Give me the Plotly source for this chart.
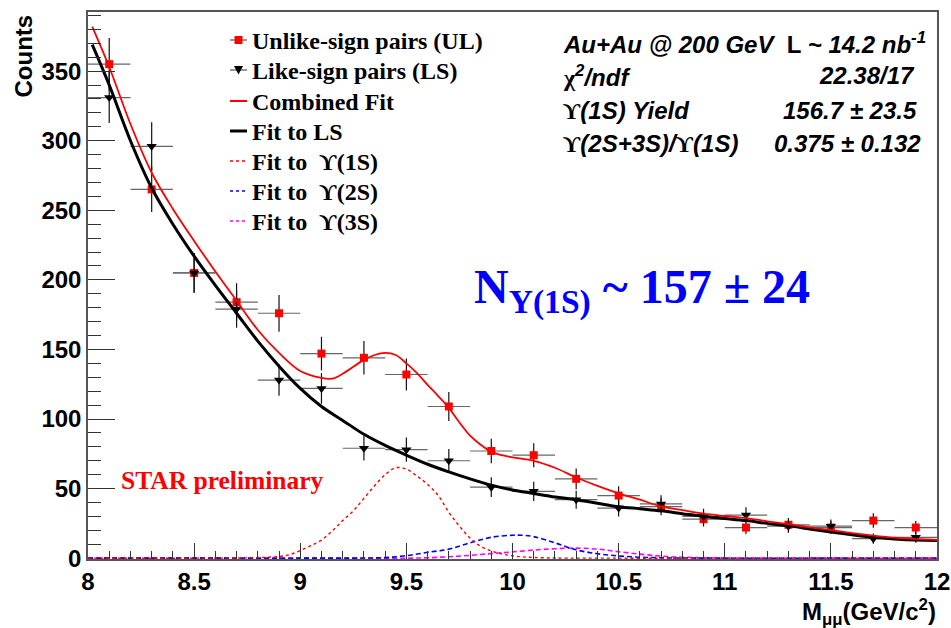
import plotly.graph_objects as go

# ---- measured dimuon invariant-mass spectrum (bin centres, GeV/c^2) ----
mass = [8.1, 8.3, 8.5, 8.7, 8.9, 9.1, 9.3, 9.5, 9.7, 9.9,
        10.1, 10.3, 10.5, 10.7, 10.9, 11.1, 11.3, 11.5, 11.7, 11.9]
bin_half_width = [0.1] * 20

ul_counts = [355, 265, 205, 184, 176, 147, 144, 132, 109, 77,
             74, 57, 45, 37, 28, 22, 24, 22, 27, 22]
ul_err = [18.8, 16.3, 14.3, 13.6, 13.2, 12.1, 12.0, 11.5, 10.4, 8.8,
          8.6, 7.5, 6.7, 6.1, 5.3, 4.7, 4.9, 4.7, 5.2, 4.7]

ls_counts = [331, 296, 205, 179, 128, 122, 79, 78, 70, 51,
             48, 42, 36, 39, 30, 31, 23, 23, 14, 15]
ls_err = [18.2, 17.2, 14.3, 13.4, 11.3, 11.0, 8.9, 8.8, 8.4, 7.1,
          6.9, 6.5, 6.0, 6.2, 5.5, 5.6, 4.8, 4.8, 3.7, 3.9]

# ---- fit curves, sampled along the mass axis ----
ls_fit_mass = [8.02, 8.1, 8.2, 8.3, 8.4, 8.5, 8.6, 8.7, 8.8, 8.9, 9.0, 9.1, 9.2,
               9.3, 9.4, 9.5, 9.6, 9.7, 9.8, 9.9, 10.0, 10.1, 10.2, 10.3, 10.4,
               10.5, 10.6, 10.7, 10.8, 10.9, 11.0, 11.1, 11.2, 11.3, 11.4, 11.5,
               11.6, 11.7, 11.8, 11.9, 12.0]
ls_fit = [369, 340, 300, 266, 240, 217, 196, 176, 156, 138, 122, 109, 99,
          89, 81, 74, 67.5, 62, 57, 52.5, 49, 46.5, 44, 42, 39.5,
          37, 35.5, 34, 32, 30, 28.5, 27, 25, 23.2, 21, 18.8,
          16.8, 15, 13.8, 13, 12.7]

comb_fit_mass = [8.02, 8.1, 8.2, 8.3, 8.4, 8.5, 8.6, 8.7, 8.8, 8.9, 9.0, 9.1,
                 9.15, 9.2, 9.3, 9.35, 9.4, 9.45, 9.5, 9.55, 9.6, 9.65, 9.7,
                 9.75, 9.8, 9.85, 9.9, 9.95, 10.0, 10.1, 10.2, 10.3, 10.4, 10.5,
                 10.6, 10.7, 10.8, 10.9, 11.0, 11.1, 11.2, 11.3, 11.4, 11.5,
                 11.6, 11.7, 11.8, 11.9, 12.0]
comb_fit = [382, 353, 312, 277, 251, 228, 206, 185, 164, 147.5, 134.5, 129.5,
            129, 132.5, 142.5, 146, 147.5, 146, 140, 133, 124.5, 116.5, 108,
            97.5, 88, 81.5, 76.5, 74, 72.5, 70, 65, 58, 52, 46.6,
            42, 37.2, 34.5, 32, 30.3, 28.8, 26.5, 24.4, 22.2, 20.1,
            18, 16.2, 14.7, 13.7, 13.2]

y1s_mass = [8.0, 8.5, 8.7, 8.8, 8.85, 8.9, 8.95, 9.0, 9.05, 9.1, 9.15, 9.2,
            9.25, 9.3, 9.35, 9.4, 9.45, 9.5, 9.55, 9.6, 9.65, 9.7, 9.75, 9.8,
            9.85, 9.9, 9.95, 10.0, 10.05, 10.1, 10.2, 10.5, 11.0, 11.5, 12.0]
y1s_fit = [0, 0, 0.1, 0.4, 0.7, 1.2, 2.5, 5.5, 9, 13, 19.5, 27,
           34, 43, 52, 60, 65, 64, 59, 53, 45, 33, 23, 14.5,
           8.5, 5.2, 3.0, 1.7, 0.9, 0.5, 0.1, 0, 0, 0, 0]

y2s_mass = [8.0, 8.5, 9.0, 9.3, 9.4, 9.5, 9.6, 9.7, 9.8, 9.9, 10.0, 10.05,
            10.1, 10.2, 10.3, 10.4, 10.5, 10.6, 10.7, 10.8, 11.0, 11.5, 12.0]
y2s_fit = [0, 0, 0, 0.1, 0.4, 1.8, 4.2, 6.5, 11, 15, 16.5, 16.4,
           15.5, 11, 6, 3.2, 1.6, 0.7, 0.3, 0.1, 0, 0, 0]

y3s_mass = [8.0, 8.5, 9.0, 9.5, 9.6, 9.7, 9.8, 9.9, 10.0, 10.1, 10.2, 10.3,
            10.4, 10.5, 10.6, 10.7, 10.8, 10.9, 11.0, 11.5, 12.0]
y3s_fit = [0, 0, 0, 0, 0.3, 1.0, 2.0, 3.3, 4.5, 5.8, 6.8, 7.2,
           6.5, 4.6, 2.9, 1.5, 0.7, 0.3, 0.1, 0, 0]

# ---- legend entries and statistics box text ----
legend_labels = ["Unlike-sign pairs (UL)", "Like-sign pairs (LS)", "Combined Fit",
                 "Fit to LS", "Fit to \u00a0\u03d2(1S)", "Fit to \u00a0\u03d2(2S)",
                 "Fit to \u00a0\u03d2(3S)"]

RED = "#ff0000"
BLUE = "#0000ff"
MAGENTA = "#ff00ff"
SANS = "Liberation Sans"
SERIF = "Liberation Serif"

# figure geometry (pixels) used to place the hand-drawn legend and labels
W, H = 951, 628
L, R, T, B = 88, 937, 12, 559


def px(xpix):
    return (xpix - L) / (R - L)


def py(ypix):
    return (B - ypix) / (B - T)


fig = go.Figure()

fig.add_trace(go.Scatter(
    x=mass, y=ul_counts, mode="markers", name="UL",
    marker=dict(symbol="square", size=8, color=RED),
    error_x=dict(type="data", array=bin_half_width, color="#666", thickness=1.2, width=0),
    error_y=dict(type="data", array=ul_err, color="#111", thickness=1.2, width=0),
    showlegend=False))

fig.add_trace(go.Scatter(
    x=mass, y=ls_counts, mode="markers", name="LS",
    marker=dict(symbol="triangle-down", size=9, color="#000"),
    error_x=dict(type="data", array=bin_half_width, color="#666", thickness=1.2, width=0),
    error_y=dict(type="data", array=ls_err, color="#111", thickness=1.2, width=0),
    showlegend=False))

fig.add_trace(go.Scatter(x=y3s_mass, y=y3s_fit, mode="lines", line_shape="spline",
                         line=dict(color=MAGENTA, width=1.6, dash="5px,3px"),
                         showlegend=False))
fig.add_trace(go.Scatter(x=y2s_mass, y=y2s_fit, mode="lines", line_shape="spline",
                         line=dict(color=BLUE, width=1.6, dash="5px,3px"),
                         showlegend=False))
fig.add_trace(go.Scatter(x=y1s_mass, y=y1s_fit, mode="lines", line_shape="spline",
                         line=dict(color=RED, width=1.4, dash="3px,3px"),
                         showlegend=False))
fig.add_trace(go.Scatter(x=ls_fit_mass, y=ls_fit, mode="lines", line_shape="spline",
                         line=dict(color="#000", width=3), showlegend=False))
fig.add_trace(go.Scatter(x=comb_fit_mass, y=comb_fit, mode="lines", line_shape="spline",
                         line=dict(color=RED, width=1.8), showlegend=False))

# ---- hand-drawn legend ----
row_y = [40, 70, 101, 131, 161, 191, 221]
line_styles = [
    dict(color="#333", width=1),
    dict(color="#333", width=1),
    dict(color=RED, width=2),
    dict(color="#000", width=3),
    dict(color=RED, width=1.5, dash="dot"),
    dict(color=BLUE, width=1.5, dash="dot"),
    dict(color=MAGENTA, width=1.5, dash="dot"),
]
shapes = []
for yrow, style in zip(row_y, line_styles):
    shapes.append(dict(type="line", xref="paper", yref="paper",
                       x0=px(230), x1=px(247), y0=py(yrow), y1=py(yrow),
                       line=style, layer="above"))
# square marker for UL
shapes.append(dict(type="rect", xref="paper", yref="paper",
                   x0=px(234.5), x1=px(242.5), y0=py(row_y[0] - 4), y1=py(row_y[0] + 4),
                   fillcolor=RED, line=dict(width=0), layer="above"))
# down-triangle marker for LS
tx, ty = 238.5, row_y[1]
shapes.append(dict(type="path", xref="paper", yref="paper",
                   path="M {} {} L {} {} L {} {} Z".format(
                       px(tx - 4.5), py(ty - 4), px(tx + 4.5), py(ty - 4), px(tx), py(ty + 4.5)),
                   fillcolor="#000", line=dict(width=0), layer="above"))

annotations = []
for yrow, label in zip(row_y, legend_labels):
    annotations.append(dict(xref="paper", yref="paper", x=px(250), y=py(yrow + 1),
                            xanchor="left", yanchor="middle", showarrow=False,
                            text="<b>" + label + "</b>",
                            font=dict(family=SERIF, size=24, color="#000")))

# ---- statistics box (top right) ----
serif_span = '<span style="font-family:Liberation Serif;font-style:normal">{}</span>'
stat_rows = [
    (43, "<b><i>Au+Au @ 200 GeV</i>  L <i>~ 14.2 nb<sup>-1</sup></i></b>", None, None),
    (76, "<b>" + serif_span.format("\u03c7") + "<i><sup>2</sup>/ndf</i></b>",
     "<b><i>22.38/17</i></b>", 917),
    (110, "<b>" + serif_span.format("\u03d2") + "<i>(1S) Yield</i></b>",
     "<b><i>156.7 \u00b1 23.5</i></b>", 919),
    (144, "<b>" + serif_span.format("\u03d2") + "<i>(2S+3S)/</i>" + serif_span.format("\u03d2")
     + "<i>(1S)</i></b>", "<b><i>0.375 \u00b1 0.132</i></b>", 923),
]
for yrow, left_text, right_text, right_x in stat_rows:
    annotations.append(dict(xref="paper", yref="paper", x=px(561), y=py(yrow),
                            xanchor="left", yanchor="middle", showarrow=False,
                            text=left_text, font=dict(family=SANS, size=24, color="#000")))
    if right_text:
        annotations.append(dict(xref="paper", yref="paper", x=px(right_x), y=py(yrow),
                                xanchor="right", yanchor="middle", showarrow=False,
                                text=right_text, font=dict(family=SANS, size=24, color="#000")))

# signal yield label
annotations.append(dict(xref="paper", yref="paper", x=px(472), y=py(290),
                        xanchor="left", yanchor="middle", showarrow=False,
                        text="<b>N<sub>Y(1S)</sub> ~ 157 \u00b1 24</b>",
                        font=dict(family=SERIF, size=48, color=BLUE)))

annotations.append(dict(xref="paper", yref="paper", x=px(222), y=py(480),
                        xanchor="center", yanchor="middle", showarrow=False,
                        text="<b>STAR preliminary</b>",
                        font=dict(family=SERIF, size=25.5, color=RED)))

# axis titles
annotations.append(dict(xref="paper", yref="paper", x=px(23), y=py(13),
                        xanchor="center", yanchor="top", showarrow=False, textangle=-90,
                        text="<b>Counts</b>", font=dict(family=SANS, size=24, color="#000")))
annotations.append(dict(xref="paper", yref="paper", x=px(938), y=py(612),
                        xanchor="right", yanchor="middle", showarrow=False,
                        text="<b>M<sub>\u03bc\u03bc</sub>(GeV/c<sup>2</sup>)</b>",
                        font=dict(family=SANS, size=24, color="#000")))

axis_common = dict(showgrid=False, zeroline=False, showline=True, linecolor="#555",
                   linewidth=1.5, mirror=True, ticks="inside", tickcolor="#333",
                   tickwidth=1, automargin=False,
                   tickfont=dict(family=SANS, size=24, color="#000", weight="bold"))

fig.update_layout(
    width=W, height=H,
    margin=dict(l=L, r=W - R, t=T, b=H - B, autoexpand=False),
    paper_bgcolor="white", plot_bgcolor="white",
    showlegend=False,
    shapes=shapes,
    annotations=annotations,
    xaxis=dict(range=[8, 12], tick0=8, dtick=0.5, ticklen=16,
               minor=dict(dtick=0.1, ticklen=8, ticks="inside", tickcolor="#333"),
               **axis_common),
    yaxis=dict(range=[-0.6, 392.5], tick0=0, dtick=50, ticklen=27,
               minor=dict(dtick=10, ticklen=13, ticks="inside", tickcolor="#333"),
               **axis_common),
)

fig.write_html("out.html")
